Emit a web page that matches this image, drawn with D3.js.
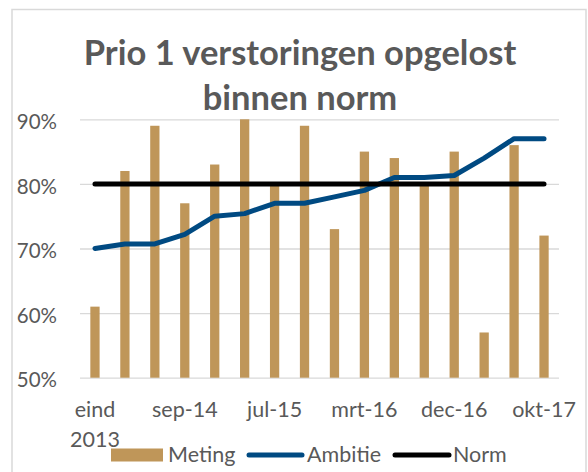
<!DOCTYPE html>
<html>
<head>
<meta charset="utf-8">
<script src="https://cdn.jsdelivr.net/npm/d3@7/dist/d3.min.js"></script>
<style>
  html, body { margin: 0; padding: 0; background: #fff; }
  svg { display: block; }
  text { font-family: Lato, "Open Sans", sans-serif; fill: #595959; }
</style>
</head>
<body>
<svg id="chart" width="588" height="472"></svg>
<script>
const categories = ["eind 2013","mrt-14","jun-14","sep-14","dec-14","mrt-15","jul-15","okt-15","dec-15","mrt-16","jun-16","sep-16","dec-16","mrt-17","jul-17","okt-17"];
const shownLabels = ["eind 2013","sep-14","jul-15","mrt-16","dec-16","okt-17"];
const meting  = [61, 82, 89, 77, 83, 90, 80, 89, 73, 85, 84, 80, 85, 57, 86, 72];
const ambitie = [70, 70.7, 70.7, 72.2, 75, 75.4, 77, 77, 78, 79, 81, 81, 81.3, 84, 87, 87];
const norm    = [80, 80, 80, 80, 80, 80, 80, 80, 80, 80, 80, 80, 80, 80, 80, 80];
const yTicks  = [50, 60, 70, 80, 90];
const titleLines = ["Prio 1 verstoringen opgelost", "binnen norm"];
const legendNames = ["Meting", "Ambitie", "Norm"];

const svg = d3.select("#chart");
const colBar = "#BF9659", colAmb = "#004A82", colNorm = "#000000", colGrid = "#D9D9D9";

// frame
svg.append("rect").attr("x", 12).attr("y", 9.5).attr("width", 574).attr("height", 480)
  .attr("fill", "none").attr("stroke", colGrid).attr("stroke-width", 1.5);

const pLeft = 80, pRight = 559, pTop = 119.3, pBottom = 377.7;
const x = d3.scaleBand().domain(categories).range([pLeft, pRight]).paddingInner(0.69).paddingOuter(0.345);
const y = d3.scaleLinear().domain([50, 90]).range([pBottom, pTop]);
const cx = d => x(d) + x.bandwidth() / 2;

// y axis + gridlines
const yAxis = svg.append("g").attr("transform", `translate(${pLeft},0)`)
  .call(d3.axisLeft(y).tickValues(yTicks).tickSize(-(pRight - pLeft)).tickPadding(23).tickFormat(d => d + "%"));
yAxis.select(".domain").remove();
yAxis.selectAll(".tick line").attr("stroke", colGrid).attr("stroke-width", 1.3);
yAxis.selectAll(".tick text").attr("font-size", 20.5).attr("fill", "#595959")
  .attr("font-family", "Lato, sans-serif").attr("dy", "0.45em");

// bars
svg.append("g").selectAll("rect").data(meting).join("rect")
  .attr("x", (d, i) => x(categories[i]))
  .attr("width", x.bandwidth())
  .attr("y", d => y(d))
  .attr("height", d => y(50) - y(d))
  .attr("fill", colBar);

// lines
const line = d3.line().x((d, i) => cx(categories[i])).y(d => y(d));
svg.append("path").datum(ambitie).attr("d", line).attr("fill", "none")
  .attr("stroke", colAmb).attr("stroke-width", 5).attr("stroke-linejoin", "round").attr("stroke-linecap", "round");
svg.append("path").datum(norm).attr("d", line).attr("fill", "none")
  .attr("stroke", colNorm).attr("stroke-width", 5).attr("stroke-linecap", "round");

// x axis
const xAxis = svg.append("g").attr("transform", `translate(0,${pBottom})`)
  .call(d3.axisBottom(x).tickValues(shownLabels).tickSize(0).tickPadding(0));
xAxis.select(".domain").remove();
xAxis.selectAll(".tick text").attr("font-size", 21.5).attr("fill", "#595959")
  .attr("font-family", "Lato, sans-serif").attr("dy", 0).attr("y", 39)
  .each(function(d) {
    const t = d3.select(this);
    const parts = d.split(" ");
    if (parts.length > 1) {
      t.text(null);
      parts.forEach((p, k) => t.append("tspan").attr("x", 0).attr("dy", k === 0 ? 0 : 30).text(p));
    }
  });

// title
svg.append("g").selectAll("text").data(titleLines).join("text")
  .attr("x", 300).attr("y", (d, i) => 65 + i * 45)
  .attr("text-anchor", "middle").attr("font-size", 34.5).attr("font-weight", "bold")
  .attr("fill", "#595959").text(d => d);

// legend
const lg = svg.append("g");
lg.append("rect").attr("x", 111).attr("y", 448.5).attr("width", 52).attr("height", 13).attr("fill", colBar);
lg.append("line").attr("x1", 249).attr("x2", 302).attr("y1", 455).attr("y2", 455)
  .attr("stroke", colAmb).attr("stroke-width", 5).attr("stroke-linecap", "round");
lg.append("line").attr("x1", 395).attr("x2", 449).attr("y1", 455).attr("y2", 455)
  .attr("stroke", colNorm).attr("stroke-width", 5).attr("stroke-linecap", "round");
lg.selectAll("text").data(legendNames).join("text")
  .attr("x", (d, i) => [168, 307, 453][i]).attr("y", 462)
  .attr("font-size", 21.5).attr("fill", "#595959").text(d => d);
</script>
</body>
</html>
